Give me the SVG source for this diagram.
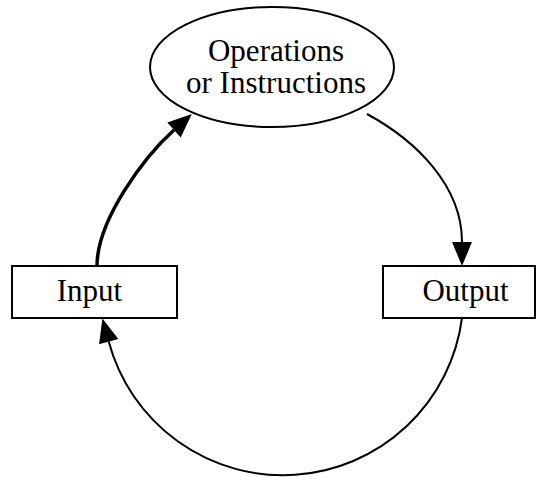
<svg xmlns="http://www.w3.org/2000/svg" width="538" height="477" viewBox="0 0 538 477">
  <style>
    .shape { fill: #ffffff; stroke: #000000; stroke-width: 2; }
    .label { font-family: "Liberation Serif", "Times New Roman", serif; font-size: 31px; fill: #000000; text-anchor: middle; }
    .edge { fill: none; stroke: #000000; stroke-width: 2; }
    .edge.thick { stroke-width: 3.5; }
  </style>
  <defs>
    <marker id="arrow" markerUnits="userSpaceOnUse" markerWidth="26" markerHeight="22" refX="0" refY="10" orient="auto" overflow="visible">
      <polygon points="0,0 24,10 0,20" fill="#000000"/>
    </marker>
  </defs>
  <rect width="538" height="477" fill="#ffffff"/>
  <g id="connectors">
    <path class="edge thick" d="M97,266 C97,220 144,157 174,130" marker-end="url(#arrow)"/>
    <path class="edge" d="M367,114 C415,140 462,185 462,242" marker-end="url(#arrow)"/>
    <path class="edge" d="M462,318 A180.5,180.5 0 0 1 108.7,341.6" marker-end="url(#arrow)"/>
  </g>
  <g id="node-operations">
    <ellipse class="shape" cx="272" cy="67" rx="122" ry="60"/>
    <text class="label" x="276" y="61">Operations</text>
    <text class="label" x="276" y="93">or Instructions</text>
  </g>
  <g id="node-input">
    <rect class="shape" x="12" y="266" width="165" height="52"/>
    <text class="label" x="89.5" y="301">Input</text>
  </g>
  <g id="node-output">
    <rect class="shape" x="383" y="266" width="152" height="52"/>
    <text class="label" x="465.5" y="301">Output</text>
  </g>
</svg>
